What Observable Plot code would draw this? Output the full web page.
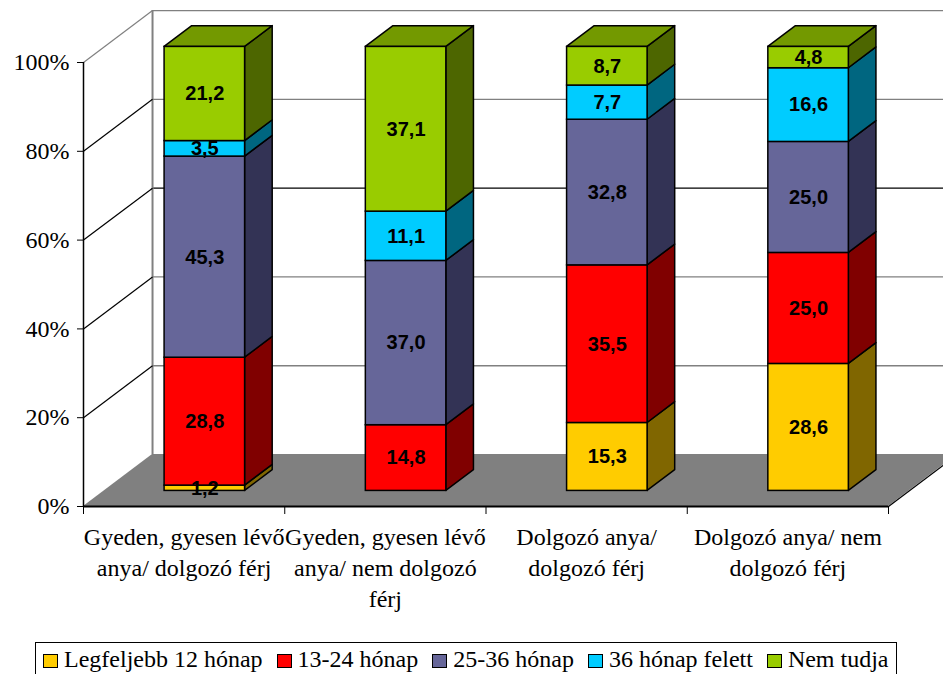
<!DOCTYPE html>
<html>
<head>
<meta charset="utf-8">
<script src="https://cdn.jsdelivr.net/npm/d3@7"></script>
<script src="https://cdn.jsdelivr.net/npm/@observablehq/plot@0.6"></script>
<style>
  html, body { margin: 0; padding: 0; background: white; overflow: hidden; }
  body { position: relative; width: 943px; height: 674px; }
  #legend {
    position: absolute; left: 35px; top: 642px; width: 862px; height: 44px;
    border: 1px solid #000; box-sizing: border-box;
    font-family: "Liberation Serif", Tinos, "Times New Roman", Times, "DejaVu Serif", serif; font-size: 24px;
    line-height: 28px;
    display: flex; align-items: flex-start; padding-left: 7px; padding-top: 2px;
    white-space: nowrap;
  }
  #legend .item { display: flex; align-items: center; margin-right: 14px; }
  #legend .sw { width: 15px; height: 14px; border: 1.5px solid #000; margin-right: 6px; box-sizing: border-box; margin-top: 3px; }
</style>
</head>
<body>
<div id="chart"></div>
<div id="legend"></div>
<script>
// ---- data ----
const categories = [
  "Gyeden, gyesen lévő anya/ dolgozó férj",
  "Gyeden, gyesen lévő anya/ nem dolgozó férj",
  "Dolgozó anya/ dolgozó férj",
  "Dolgozó anya/ nem dolgozó férj"
];
const tickLabels = [
  "Gyeden, gyesen lévő\nanya/ dolgozó férj",
  "Gyeden, gyesen lévő\nanya/ nem dolgozó\nférj",
  "Dolgozó anya/\ndolgozó férj",
  "Dolgozó anya/ nem\ndolgozó férj"
];
const series = ["Legfeljebb 12 hónap", "13-24 hónap", "25-36 hónap", "36 hónap felett", "Nem tudja"];
const legfeljebb12 = [1.2, 0, 15.3, 28.6];
const honap13_24 = [28.8, 14.8, 35.5, 25.0];
const honap25_36 = [45.3, 37.0, 32.8, 25.0];
const honapFelett36 = [3.5, 11.1, 7.7, 16.6];
const nemTudja = [21.2, 37.1, 8.7, 4.8];
const yTicks = [0, 20, 40, 60, 80, 100];

// ---- styles ----
const frontColors = ["#FFCC00", "#FF0000", "#666699", "#00CCFF", "#99CC00"];
const sideColors  = ["#806600", "#800000", "#333355", "#006680", "#4D6600"];
const topColors   = ["#BF9900", "#BF0000", "#4D4D73", "#0099BF", "#739900"];
const serifFont = "'Liberation Serif', Tinos, 'Times New Roman', Times, 'DejaVu Serif', serif";
const sansFont = "'Liberation Sans', Arimo, Arial, sans-serif";

const values = [legfeljebb12, honap13_24, honap25_36, honapFelett36, nemTudja];

// 3D geometry in data units
const BW = 0.4;          // bar width (category units)
const DX = 0.343, DY = 11.7; // full depth offset
const F0 = 0.3, F1 = 0.7;    // bar front/back depth fraction
const fx0 = DX * F0, fy0 = DY * F0, fx1 = DX * F1, fy1 = DY * F1;

const segs = [], sides = [], tops = [];
categories.forEach((c, i) => {
  let lo = 0;
  const xl = i + 0.5 - BW / 2 + fx0, xr = i + 0.5 + BW / 2 + fx0;
  let lastK = -1;
  series.forEach((s, k) => {
    const v = values[k][i];
    if (v > 0) {
      const hi = lo + v;
      segs.push({i, k, v, lo, hi, xl, xr, fill: frontColors[k]});
      const key = i + "-" + k;
      sides.push({key, x: xr, y1: lo + fy0, y2: hi + fy0, fill: sideColors[k]});
      sides.push({key, x: xr + (fx1 - fx0), y1: lo + fy1, y2: hi + fy1, fill: sideColors[k]});
      lastK = k;
      lo = hi;
    }
  });
  const key = "t" + i;
  tops.push({key, y: lo + fy0, x1: xl, x2: xr, fill: topColors[lastK]});
  tops.push({key, y: lo + fy1, x1: xl + (fx1 - fx0), x2: xr + (fx1 - fx0), fill: topColors[lastK]});
});

const N = categories.length;
const floor = [
  {y: 0, x1: 0, x2: N},
  {y: DY, x1: DX, x2: N + DX}
];
const boundaries = d3.range(N + 1);
const centers = d3.range(N).map(i => i + 0.5);
const gridColor = v => (v === 60 ? "#000" : "#808080");

const chart = Plot.plot({
  width: 943,
  height: 630,
  marginLeft: 83,
  marginRight: 55,
  marginTop: 62,
  marginBottom: 124,
  style: {fontFamily: serifFont, fontSize: "24px", background: "white", overflow: "hidden", color: "#000"},
  x: {domain: [0, N], axis: null},
  y: {domain: [0, 100], axis: null},
  color: {type: "identity"},
  marks: [
    // floor
    Plot.areaX(floor, {y: "y", x1: "x1", x2: "x2", fill: "#808080"}),
    // back wall gridlines
    Plot.ruleY(yTicks.filter(v => v > 0), {y: v => v + DY, x1: DX, x2: N + DX + 0.5, stroke: gridColor, strokeWidth: 1.3}),
    Plot.ruleX([DX], {y1: DY, y2: 100 + DY, stroke: "#808080", strokeWidth: 2}),
    // side wall diagonals
    Plot.link(yTicks.filter(v => v > 0), {x1: 0, y1: v => v, x2: DX, y2: v => v + DY, stroke: v => (v === 100 ? "#808080" : "#000"), strokeWidth: 1.2}),
    Plot.link([0], {x1: N, y1: 0, x2: N + DX, y2: DY, stroke: "#000", strokeWidth: 1.2}),
    // front axis lines
    Plot.ruleX([0], {y1: 0, y2: 100, stroke: "#000", strokeWidth: 1.5}),
    Plot.ruleY([0], {x1: 0, x2: N, stroke: "#000", strokeWidth: 2}),
    // bars
    Plot.areaY(sides, {x: "x", y1: "y1", y2: "y2", z: "key", fill: "fill", stroke: "#000", strokeWidth: 1.5, strokeLinejoin: "round"}),
    Plot.areaX(tops, {y: "y", x1: "x1", x2: "x2", z: "key", fill: "fill", stroke: "#000", strokeWidth: 1.5, strokeLinejoin: "round"}),
    Plot.rect(segs, {x1: "xl", x2: "xr", y1: d => d.lo + fy0, y2: d => d.hi + fy0, fill: "fill", stroke: "#000", strokeWidth: 1.5}),
    Plot.text(segs, {
      x: d => (d.xl + d.xr) / 2, y: d => (d.lo + d.hi) / 2 + fy0,
      text: d => d.v.toFixed(1).replace(".", ","),
      fontFamily: sansFont, fontWeight: "bold", fontSize: 20, fill: "#000"
    }),
    // axes
    Plot.axisY(yTicks, {tickFormat: d => d + "%", tickSize: 6, tickPadding: 8, stroke: "#000", fontSize: 24, fontFamily: serifFont}),
    Plot.axisX(boundaries, {tickFormat: () => "", tickSize: 8, stroke: "#000"}),
    Plot.axisX(centers, {tickFormat: (d, i) => tickLabels[i], tickSize: 0, tickPadding: 16, lineHeight: 1.3, fontSize: 24, fontFamily: serifFont})
  ]
});
document.getElementById("chart").appendChild(chart);

// legend
const legend = document.getElementById("legend");
series.forEach((s, k) => {
  const item = document.createElement("div");
  item.className = "item";
  const sw = document.createElement("div");
  sw.className = "sw";
  sw.style.background = frontColors[k];
  const t = document.createElement("span");
  t.textContent = s;
  item.appendChild(sw);
  item.appendChild(t);
  legend.appendChild(item);
});
</script>
</body>
</html>
